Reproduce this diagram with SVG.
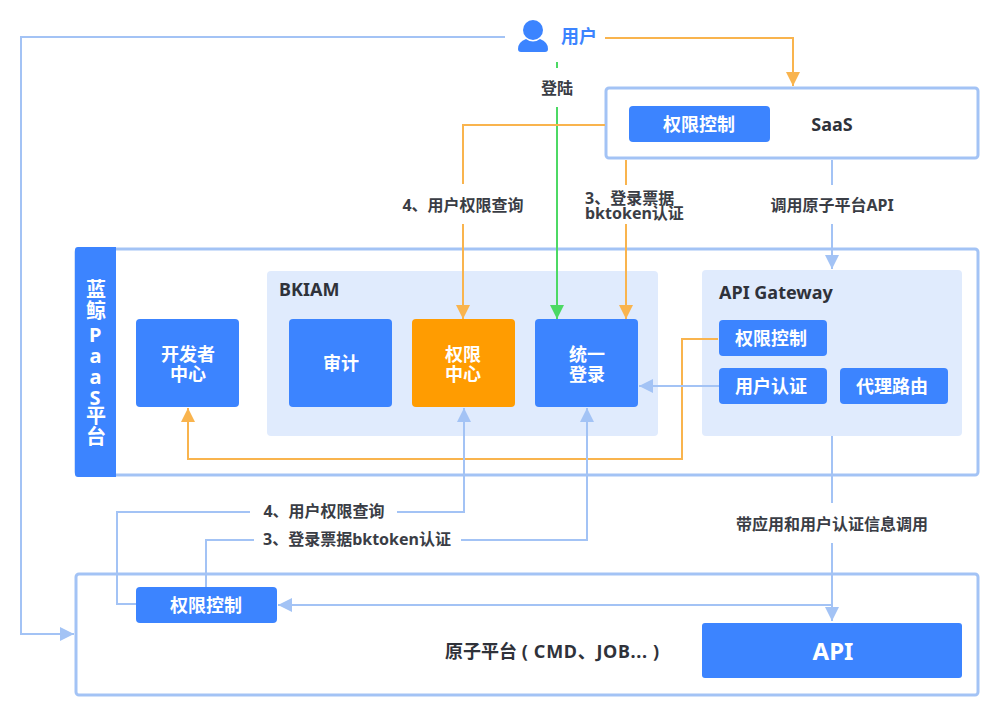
<svg xmlns="http://www.w3.org/2000/svg" width="1000" height="717" viewBox="0 0 1000 717">
<style>
text{font-family:"Noto Sans","Noto Sans CJK SC",sans-serif;font-weight:700;text-anchor:middle}
.lb{font-size:16px;fill:#3a3d45}
.w{font-size:18px;fill:#fff}
.h{font-size:18px;fill:#2f323a}
.s{text-anchor:start}
.frame{fill:#fff;stroke:#a3c3f5;stroke-width:3}
.panel{fill:#e0ebfd}
.blue{fill:#3c84ff}
.c{fill:none;stroke-width:2}
.bl{stroke:#a3c3f5}.or{stroke:#f9b44e}.gr{stroke:#4cd964}
</style>
<defs>
<marker id="ab" markerUnits="userSpaceOnUse" markerWidth="14" markerHeight="14" refX="14" refY="7" orient="auto"><path d="M0 0L14 7L0 14Z" fill="#a3c3f5"/></marker>
<marker id="ao" markerUnits="userSpaceOnUse" markerWidth="14" markerHeight="14" refX="14" refY="7" orient="auto"><path d="M0 0L14 7L0 14Z" fill="#f9b44e"/></marker>
<marker id="ag" markerUnits="userSpaceOnUse" markerWidth="14" markerHeight="14" refX="14" refY="7" orient="auto"><path d="M0 0L14 7L0 14Z" fill="#4cd964"/></marker>
</defs>
<rect width="1000" height="717" fill="#fff"/>
<g id="saas"><rect class="frame" x="606" y="88" width="372" height="70" rx="3"/><rect class="blue" x="629" y="106" width="141" height="36" rx="4"/><text class="w" x="699" y="131">权限控制</text><text class="h" x="832" y="131">SaaS</text></g>
<g id="paas"><rect class="frame" x="76" y="249" width="902" height="226" rx="3"/><path class="blue" d="M78 247H116V477H78Q75 477 75 474V250Q75 247 78 247Z"/>
<text x="95" y="279" style="font-size:20px;fill:#fff;writing-mode:vertical-rl;text-orientation:upright;text-anchor:start;letter-spacing:1px">蓝鲸<tspan style="letter-spacing:-6px">PaaS</tspan>平台</text></g>
<g id="platform"><rect class="frame" x="76" y="574" width="902" height="121" rx="3"/><text class="h s" x="445" y="658">原子平台 <tspan style="letter-spacing:.7px">( CMD、JOB... )</tspan></text></g>
<g id="bkiam"><rect class="panel" x="267" y="271" width="391" height="165" rx="4"/><text class="h s" x="279" y="296">BKIAM</text></g>
<g id="gateway"><rect class="panel" x="702" y="270" width="260" height="166" rx="4"/><text class="h s" x="719" y="299">API Gateway</text></g>
<g id="connectors">
<path class="c bl" d="M505 37H21V634H74" marker-end="url(#ab)"/>
<path class="c or" d="M605 38H793V86" marker-end="url(#ao)"/>
<path class="c gr" d="M557 62V68M557 107V319" marker-end="url(#ag)"/>
<path class="c or" d="M605 125H463V184M463 224V319" marker-end="url(#ao)"/>
<path class="c or" d="M626 160V185M626 224V319" marker-end="url(#ao)"/>
<path class="c bl" d="M832 160V185M832 224V269" marker-end="url(#ab)"/>
<path class="c or" d="M718 339H682V459H188V408" marker-end="url(#ao)"/>
<path class="c bl" d="M719 386H639" marker-end="url(#ab)"/>
<path class="c bl" d="M136 604H117V512H250M397 512H464V408" marker-end="url(#ab)"/>
<path class="c bl" d="M206 587V540H254M461 540H587V408" marker-end="url(#ab)"/>
<path class="c bl" d="M832 436V503M832 543V621" marker-end="url(#ab)"/>
<path class="c bl" d="M832 605H278" marker-end="url(#ab)"/>
</g>
<g id="user"><circle cx="533" cy="30" r="10" fill="#3c84ff"/><path d="M518 49Q518 42 526 39Q533 44 540 39Q548 42 548 49Q548 52 545 52H521Q518 52 518 49Z" fill="#3c84ff"/><text x="579" y="43" style="font-size:18px;fill:#3c84ff">用户</text></g>
<g id="devcenter"><rect class="blue" x="136" y="319" width="103" height="88" rx="4"/><text class="w" x="188" y="361">开发者</text><text class="w" x="188" y="381">中心</text></g>
<g id="audit"><rect class="blue" x="289" y="319" width="103" height="88" rx="4"/><text class="w" x="341" y="370">审计</text></g>
<g id="perm"><rect x="412" y="319" width="103" height="88" rx="4" fill="#ff9c01"/><text class="w" x="463" y="361">权限</text><text class="w" x="463" y="381">中心</text></g>
<g id="sso"><rect class="blue" x="535" y="319" width="103" height="88" rx="4"/><text class="w" x="587" y="361">统一</text><text class="w" x="587" y="381">登录</text></g>
<g id="gwperm"><rect class="blue" x="719" y="320" width="108" height="36" rx="4"/><text class="w" x="771" y="345">权限控制</text></g>
<g id="gwauth"><rect class="blue" x="719" y="368" width="108" height="36" rx="4"/><text class="w" x="771" y="393">用户认证</text></g>
<g id="gwroute"><rect class="blue" x="840" y="368" width="108" height="36" rx="4"/><text class="w" x="892" y="393">代理路由</text></g>
<g id="platperm"><rect class="blue" x="136" y="587" width="141" height="36" rx="4"/><text class="w" x="206" y="612">权限控制</text></g>
<g id="api"><rect class="blue" x="702" y="623" width="260" height="55" rx="3"/><text x="833" y="660" style="font-size:24px;fill:#fff">API</text></g>
<g id="labels">
<text class="lb" x="557" y="94">登陆</text>
<text class="lb" x="463" y="211">4、用户权限查询</text>
<text class="lb s" x="585" y="204">3、登录票据</text>
<text class="lb s" x="585" y="219">bktoken认证</text>
<text class="lb" x="832" y="211">调用原子平台API</text>
<text class="lb" x="324" y="517">4、用户权限查询</text>
<text class="lb" x="357" y="545">3、登录票据bktoken认证</text>
<text class="lb" x="832" y="530">带应用和用户认证信息调用</text>
</g>
</svg>
